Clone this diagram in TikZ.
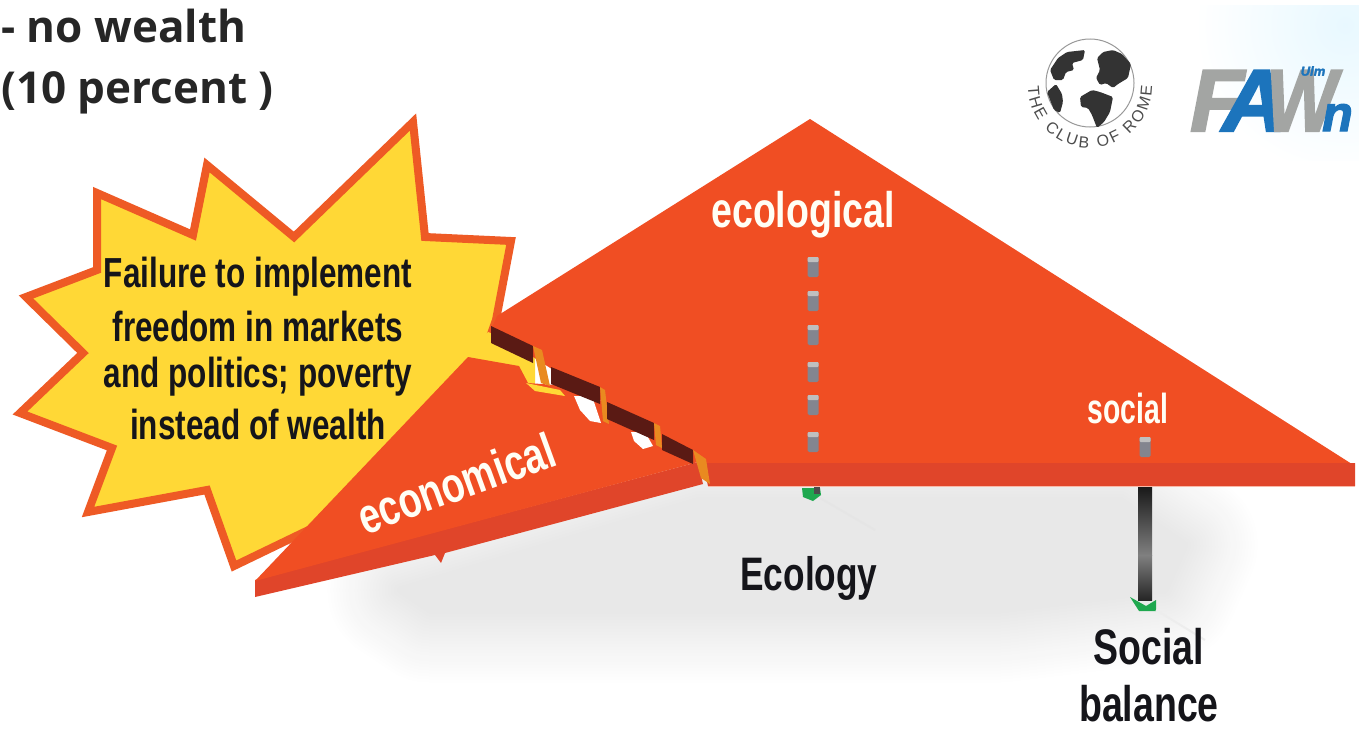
\documentclass[tikz,border=0pt]{standalone}
\usepackage{fontspec}
\usetikzlibrary{decorations.text}
\setmainfont{Liberation Sans}
\newfontfamily\dinfont[FakeStretch=0.75]{Liberation Sans}
\newfontfamily\headfont{Open Sans}
\newfontfamily\logofont[BoldItalicFeatures={FakeBold=2.5}]{Liberation Sans}
\definecolor{redtop}{HTML}{F04E23}
\definecolor{redside}{HTML}{E0452A}
\definecolor{staryel}{HTML}{FFD836}
\definecolor{starred}{HTML}{EE5A25}
\definecolor{maroon}{HTML}{5A1A14}
\definecolor{bandor}{HTML}{E98A20}
\definecolor{cubegr}{HTML}{83858F}
\definecolor{greenb}{HTML}{1FA84F}
\definecolor{logogr}{HTML}{A3A5A3}
\definecolor{logobl}{HTML}{1C74BC}
\definecolor{txtdark}{HTML}{15151A}
\tikzset{
  din/.style={font=\dinfont\bfseries\fontsize{#1}{#1}\selectfont,inner sep=0pt,text=txtdark},
  dinw/.style={font=\dinfont\bfseries\fontsize{#1}{#1}\selectfont,inner sep=0pt,text=white!96!yellow},
  headtxt/.style={font=\headfont\bfseries\fontsize{44}{44}\selectfont,inner sep=0pt,anchor=west,text=black!85},
  seg/.style={fill=maroon},
  sep/.style={fill=bandor},
  logoletter/.style={inner sep=0pt,font=\logofont\bfseries\itshape\fontsize{#1}{#1}\selectfont},
  land/.style={fill=black!80,rounded corners=1.5pt},
}
\begin{document}
\begin{tikzpicture}[x=1pt,y=-1pt]
\useasboundingbox (0,0) rectangle (1359,728);
\fill[white] (0,0) rectangle (1359,728);
% pale tint top right
\begin{scope}
\clip (1150,5) rectangle (1359,160);
\shade[inner color=blue!30!cyan!9,outer color=white] (1345,25) circle[radius=150];
\end{scope}
% soft ground shadow: nested opaque layers, lightest outside
\foreach \i in {1,...,24}{
  \pgfmathsetmacro{\lw}{150-6*\i}
  \pgfmathsetmacro{\tn}{0.37*\i}
  \path[draw=black!\tn,fill=black!\tn,line width=\lw pt,line join=round]
    (400,590) -- (700,500) -- (1120,500) -- (1185,545) -- (1165,590) -- (1000,610) -- (430,610) -- cycle;
}
% star
\draw[fill=staryel,draw=starred,line width=8pt,miter limit=20,line join=miter]
  (413,122) -- (425,237) -- (511,241) -- (496,320) -- (480,365) -- (350,510) -- (234,566)
  -- (207,490) -- (88,512) -- (112,448) -- (20,413) -- (83,353) -- (26,297)
  -- (97,270) -- (97,193) -- (193,235) -- (207,165) -- (294,237) -- cycle;
% yellow sliver in the crack
\fill[staryel] (488,332) -- (535,350) -- (535,395) -- (465,358) -- cycle;
% main triangle
\fill[redtop] (810,119) -- (1355,466) -- (703,466) -- (491,330) -- (497,316) -- cycle;
\fill[redside] (703,463) -- (1355,463) -- (1355,486) -- (708,486) -- cycle;
\draw[white!60!redtop,line width=.8pt] (708,486.5) -- (1355,486.5);
% economical triangle
\fill[redside] (255,580) -- (698,462) -- (703,484) -- (445,553) -- (441,563) -- (435,555) -- (255,597) -- cycle;
\fill[redtop] (468,357) -- (519,366) -- (528,383) -- (555,385) -- (600,400) -- (640,425)
  -- (698,462) -- (255,581) -- cycle;
% white gaps under the crack
\fill[white] (574,396) -- (592,396) -- (601,423) -- (590,421) -- (580,410) -- cycle;
\fill[white] (631,432) -- (645,432) -- (653,446) -- (643,449) -- (634,441) -- cycle;
% cracked band
\fill[seg] (491,326) -- (533,346) -- (533,363) -- (491,343) -- cycle;
\fill[sep] (533,346) -- (542,350) -- (550,386) -- (541,383) -- cycle;
\fill[staryel] (526,383) -- (560,390) -- (565,396) -- (535,391) -- cycle;
\fill[seg] (551,367) -- (600,387) -- (600,404) -- (551,384) -- cycle;
\fill[sep] (600,387) -- (605,390) -- (609,424) -- (603,421) -- cycle;
\fill[seg] (607,402) -- (654,423) -- (654,440) -- (607,419) -- cycle;
\fill[sep] (654,423) -- (660,426) -- (662,448) -- (656,445) -- cycle;
\fill[seg] (662,434) -- (693,450) -- (693,464) -- (662,450) -- cycle;
\fill[sep] (693,450) -- (706,459) -- (710,484) -- (701,478) -- cycle;
% cubes
\foreach \cx/\cy in {813/267,813/301,813/335,813/372,813/405,813/442,1145/447}{
  \fill[cubegr,rounded corners=1.5pt] (\cx-5.5,\cy-10) rectangle (\cx+5.5,\cy+10);
  \fill[black!25,rounded corners=1pt] (\cx-5.5,\cy-10) rectangle (\cx+5.5,\cy-5);
}
% poles and feet
\fill[greenb] (802,488) -- (820,488) -- (821,495) -- (813,501) -- (803,497) -- cycle;
\fill[black!70] (814,487) rectangle (820,494);
\draw[black!10,line width=2pt] (820,498) -- (875,530);
\shade[top color=black!90,bottom color=black!50] (1138,487) rectangle (1152,555);
\shade[top color=black!50,bottom color=black!85] (1138,555) rectangle (1152,600);
\fill[greenb] (1130,597) -- (1146,606) -- (1156,600) -- (1156,611) -- (1139,611) -- cycle;
\draw[black!7,line width=2pt] (1156,610) -- (1205,640);
% labels
\node[din=42] (failure) at (258,277) {Failure to implement};
\node[din=42] (freedom) at (258,326) {freedom in markets};
\node[din=42] (politics) at (258,377) {and politics; poverty};
\node[din=42] (instead) at (258,424) {instead of wealth};
\node[dinw=50] (ecolabel) at (803,215) {ecological};
\node[dinw=42,xscale=.9] (soclabel) at (1128,408) {social};
\node[dinw=50,rotate=20] (econlabel) at (456,483) {economical};
\node[din=47] (ecology) at (809,578) {Ecology};
\node[din=50] (socialb) at (1149,647) {Social};
\node[din=50] (balance) at (1149,704) {balance};
\node[headtxt] (nowealth) at (1,26) {- no wealth};
\node[headtxt] (tenpct) at (1,93) {(10 percent )};
% Club of Rome logo
\draw[black!40,line width=1pt] (1090,83) circle[radius=44];
\fill[land] (1097,58) -- (1103,52) -- (1113,50) -- (1122,54) -- (1131,64) -- (1128,78) -- (1118,84) -- (1113,88) -- (1106,83) -- (1100,85) -- (1096,78) -- (1100,70) -- cycle;
\fill[land] (1080,97) -- (1092,90) -- (1100,92) -- (1113,97) -- (1110,112) -- (1104,122) -- (1097,128) -- (1092,115) -- (1088,108) -- (1081,107) -- cycle;
\fill[land] (1050,70) -- (1058,58) -- (1067,52) -- (1085,50) -- (1083,60) -- (1072,63) -- (1074,70) -- (1066,72) -- (1063,80) -- (1054,80) -- cycle;
\fill[land] (1047,92) -- (1056,84) -- (1062,94) -- (1063,102) -- (1060,113) -- (1054,110) -- cycle;
\path[decorate,decoration={text along path,text align=fit to path,
   text={|\fontsize{16}{16}\selectfont\color{black!70}|THE CLUB OF ROME}}]
   (1028,86) arc[start angle=180,end angle=0,radius=62];
% FAWn logo
\node[logoletter=88,text=logogr,anchor=base west] (logof) at (1190,131) {F};
\node[logoletter=88,text=logobl,anchor=base west] (logoa) at (1222,131) {A};
\node[logoletter=88,text=logogr,anchor=base west,xscale=.85] (logow) at (1266,131) {W};
\node[logoletter=50,text=logobl,anchor=base west] (logon) at (1322,131) {n};
\node[logoletter=13,text=logobl,anchor=center] (logoulm) at (1313,71) {Ulm};
\end{tikzpicture}
\end{document}
